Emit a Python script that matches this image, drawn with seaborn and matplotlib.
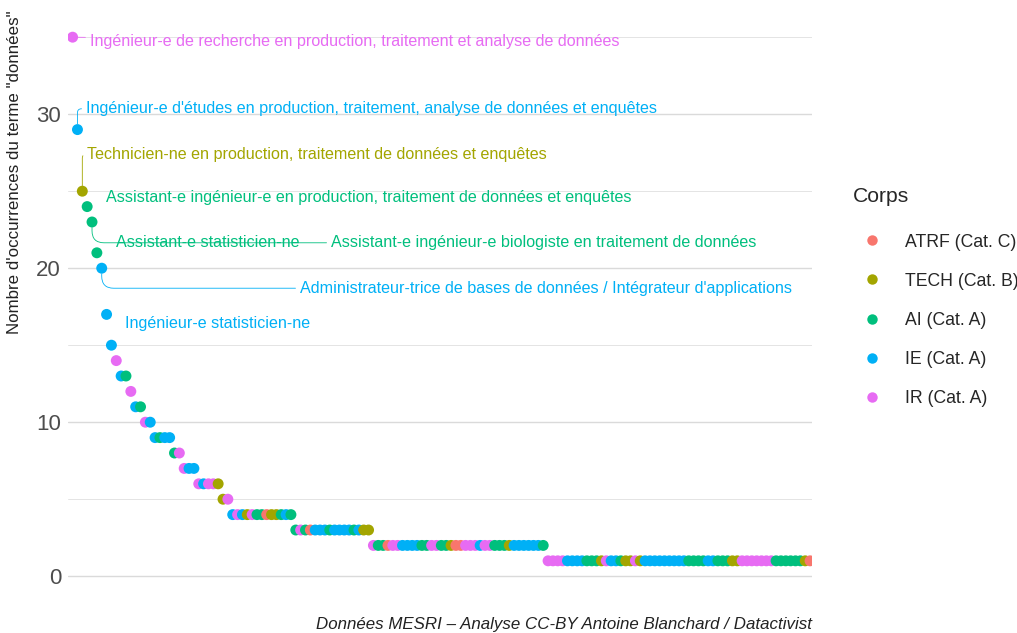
import numpy as np
import pandas as pd
import matplotlib
matplotlib.use("Agg")
import matplotlib.pyplot as plt
from matplotlib.lines import Line2D
import seaborn as sns

# nombre d'occurrences du terme "données", du plus grand au plus petit
niveaux = [35, 29, 25, 24, 23, 21, 20, 17, 15, 14, 13, 12, 11, 10, 9, 8, 7, 6, 5, 4, 3, 2, 1]
# nombre d'emplois-types à chaque niveau
effectifs = [1, 1, 1, 1, 1, 1, 1, 1, 1, 1, 2, 1, 2, 2, 4, 2, 3, 5, 2, 13, 16, 36, 55]

# corps de chaque emploi-type, dans l'ordre du classement
corps = (
    ["IR", "IE", "TECH", "AI", "AI", "AI", "IE", "IE", "IE", "IR"]
    + ["IE", "AI"] + ["IR"] + ["IE", "AI"] + ["IR", "IE"]
    + ["IE", "AI", "IE", "IE"] + ["AI", "IR"] + ["IR", "IE", "IE"]
    + ["IR", "IE", "IR", "IR", "TECH"] + ["TECH", "IR"]
    + ["IE", "IR", "IE", "TECH", "IR", "AI", "AI", "ATRF", "TECH", "TECH", "AI", "IE", "AI"]
    + ["AI", "IR", "AI", "ATRF", "IE", "IE", "IE", "AI", "IE", "IE", "IE", "IE", "AI", "IE",
       "TECH", "TECH"]
    + ["IR", "AI", "AI", "ATRF", "IR", "IR", "IE", "IE", "IE", "IE", "AI", "AI", "IR", "IR",
       "AI", "AI", "TECH", "ATRF", "ATRF", "IR", "IR", "IR", "IE", "IR", "IR", "AI", "AI", "AI",
       "TECH", "IE", "IE", "IE", "IE", "IE", "IE", "AI"]
    + ["IR", "IR", "IR", "IR", "IE", "IE", "IE", "IE", "AI", "AI", "AI", "TECH", "IR", "IE",
       "IE", "AI", "TECH", "TECH", "IR", "TECH", "IE", "IE", "IE", "IE", "IE", "IE", "IE", "IE",
       "IE", "AI", "AI", "AI", "AI", "IE", "IE", "AI", "AI", "AI", "TECH", "TECH", "IR", "IR",
       "IR", "IR", "IR", "IR", "IR", "AI", "AI", "AI", "AI", "AI", "AI", "TECH", "ATRF"]
)

codes = ["ATRF", "TECH", "AI", "IE", "IR"]
noms_corps = ["ATRF (Cat. C)", "TECH (Cat. B)", "AI (Cat. A)", "IE (Cat. A)", "IR (Cat. A)"]
couleurs = ["#F8766D", "#A3A500", "#00BF7D", "#00B0F6", "#E76BF3"]

# emplois-types étiquetés (rang dans le classement)
emplois = [
    "Ingénieur-e de recherche en production, traitement et analyse de données",
    "Ingénieur-e d'études en production, traitement, analyse de données et enquêtes",
    "Technicien-ne en production, traitement de données et enquêtes",
    "Assistant-e ingénieur-e en production, traitement de données et enquêtes",
    "Assistant-e ingénieur-e biologiste en traitement de données",
    "Assistant-e statisticien-ne",
    "Administrateur-trice de bases de données / Intégrateur d'applications",
    "Ingénieur-e statisticien-ne",
]
emplois_rang = [1, 2, 3, 4, 5, 6, 7, 8]

#%%
df = pd.DataFrame({
    "occurrences": np.repeat(niveaux, effectifs),
    "code": corps,
})
df["rang"] = np.arange(1, len(df) + 1)
df["corps"] = df["code"].map(dict(zip(codes, noms_corps)))
pal = dict(zip(noms_corps, couleurs))

sns.set_style("white")
plt.rcParams["font.family"] = ["Liberation Sans", "DejaVu Sans"]

fig = plt.figure(figsize=(10.17, 6.33), dpi=100)
ax = fig.add_axes([68 / 1017, 1 - 587 / 633, (812 - 68) / 1017, (587 - 11) / 633])

for y in [0, 10, 20, 30]:
    ax.axhline(y, color="#DADADA", lw=1.0, zorder=0)
for y in [5, 15, 25, 35]:
    ax.axhline(y, color="#E4E4E4", lw=0.7, zorder=0)

sns.scatterplot(data=df, x="rang", y="occurrences", hue="corps", hue_order=noms_corps,
                palette=pal, s=62, linewidth=0, legend=False, ax=ax, zorder=3)

ax.set_xlim(0.05, 153.4)
ax.set_ylim(-0.7, 36.7)
ax.set_xticks([])
ax.set_yticks([0, 10, 20, 30])
ax.tick_params(axis="y", length=0, pad=5, labelsize=16, labelcolor="#4D4D4D")
ax.set_xlabel("")
ax.set_ylabel('Nombre d\'occurrences du terme "données"', loc="top", fontsize=12.2,
              color="#222222")
ax.yaxis.set_label_coords(-0.062, 1.0)
for s in ax.spines.values():
    s.set_visible(False)

# étiquettes (position du texte, style du segment)
positions = [(4.6, 34.75), (3.8, 30.35), (4.0, 27.4), (7.9, 24.6),
             (54.3, 21.65), (9.95, 21.7), (47.9, 18.7), (11.8, 16.4)]
segments = ["arc3", "angle,angleA=0,angleB=90,rad=4", "angle,angleA=0,angleB=90,rad=4", None,
            "angle,angleA=0,angleB=90,rad=12", None, "angle,angleA=0,angleB=90,rad=12", None]

for lib, r, (tx, ty), cs in zip(emplois, emplois_rang, positions, segments):
    row = df.loc[df["rang"] == r].iloc[0]
    c = pal[row["corps"]]
    props = None
    if cs is not None:
        props = dict(arrowstyle="-", color=c, lw=0.6, shrinkA=1, shrinkB=4, connectionstyle=cs)
    ax.annotate(lib, xy=(row["rang"], row["occurrences"]), xytext=(tx, ty),
                ha="left", va="center", fontsize=11.6, color=c, arrowprops=props, zorder=4)

handles = [Line2D([], [], marker="o", linestyle="", markersize=7.5, markeredgewidth=0, color=c)
           for c in couleurs]
leg = ax.legend(handles, noms_corps, title="Corps", loc="upper left",
                bbox_to_anchor=(853 / 1017, 1 - 187 / 633), bbox_transform=fig.transFigure,
                frameon=False, borderpad=0, borderaxespad=0, labelspacing=1.25,
                handlelength=2.2, handletextpad=0.75, alignment="left",
                prop={"size": 12.7},
                title_fontproperties={"size": 15.2})
# un peu plus d'espace entre le titre et les entrées
leg._legend_box.sep += 4

fig.text(812 / 1017, 1 - 624 / 633, "Données MESRI – Analyse CC-BY Antoine Blanchard / Datactivist",
         ha="right", va="center", fontsize=12.2, style="italic", color="#222222")

fig.savefig("out.png", dpi=100)
